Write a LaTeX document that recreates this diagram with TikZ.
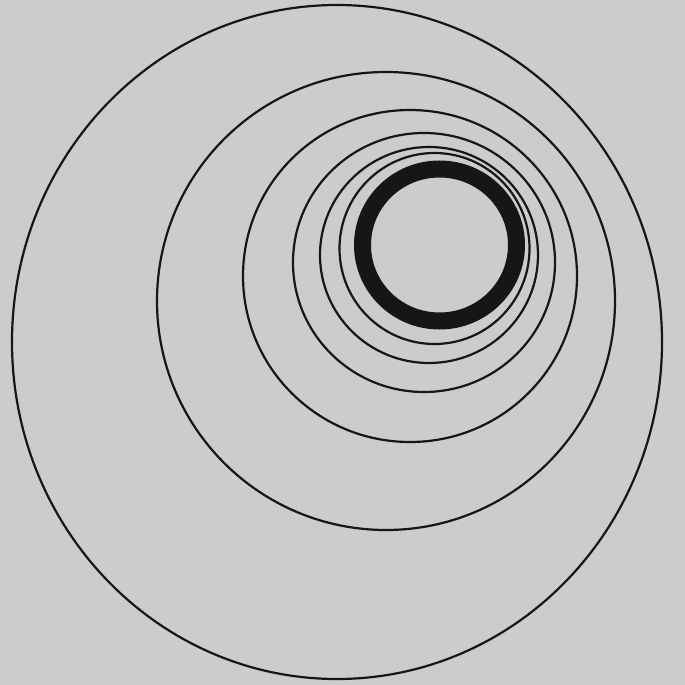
\documentclass[tikz,border=0pt]{standalone}
\definecolor{paper}{RGB}{204,205,202}
\definecolor{ink}{RGB}{22,22,22}
\tikzset{ring/.style={draw=ink,line width=2.2pt}}
\begin{document}
\begin{tikzpicture}[x=1pt,y=-1pt]
\fill[paper] (0,0) rectangle (685,685);
\useasboundingbox (0,0) rectangle (685,685);
\draw[ring] (337,342) ellipse [x radius=325,y radius=337];
\draw[ring] (386,301) ellipse [x radius=229,y radius=229];
\draw[ring] (410,276) ellipse [x radius=167,y radius=166];
\draw[ring] (424,262.5) ellipse [x radius=131,y radius=129.5];
\draw[ring] (429,255) ellipse [x radius=109,y radius=108];
\draw[ring] (434.5,248.5) ellipse [x radius=95,y radius=95.5];
\draw[draw=ink,line width=17pt] (439.5,245) ellipse [x radius=77,y radius=76];
\end{tikzpicture}
\end{document}
